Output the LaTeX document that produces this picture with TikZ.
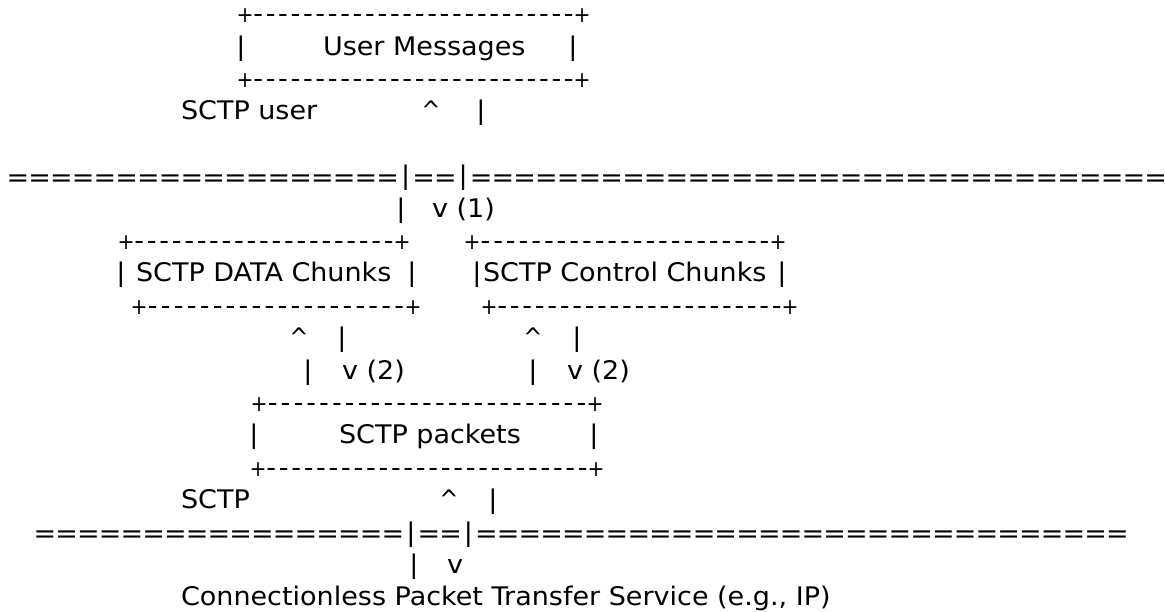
\documentclass[tikz,border=0pt]{standalone}
\usepackage{fontspec}
\setmainfont{DejaVu Sans}[FakeStretch=1.055]
\usepackage{graphicx}

% glyph helpers for the ASCII drawing
\newcommand\plusg{\scalebox{0.75}[0.86]{+}}
\newcommand\caretg{\scalebox{0.85}[1]{\textasciicircum}}
\newcommand\dashfill[1]{\hbox to #1pt{\xleaders\hbox to 12.4pt{\hss-\hss}\hfill}}
\newcommand\eqg{\hbox to 21.75pt{\hss\raisebox{-1.5pt}{=}\hss}}
\newcommand\eqrun[1]{\hbox to \dimexpr 21.75pt*#1\relax{\xleaders\eqg\hfill}}
\newcommand\barb{\hbox to 14.2pt{\hss\textbar\hss}}

\tikzset{
  ascii/.style={inner sep=0pt, outer sep=0pt, font=\fontsize{25.6}{30}\selectfont, anchor=base},
  asciiw/.style={ascii, anchor=base west},
}

% +-----+ edge of a box: name, left centre, right centre, row
\newcommand\boxedge[4]{%
  \node[ascii] (#1-a) at (#2,{621.6-32.4*#4}) {\plusg};
  \node[ascii] (#1-b) at (#3,{621.6-32.4*#4}) {\plusg};
  \pgfmathsetmacro\dw{#3-#2-14}
  \node[asciiw] (#1-d) at (#2+7,{621.6-32.4*#4}) {\dashfill{\dw}};
}

\begin{document}
\begin{tikzpicture}[x=1pt,y=1pt]
\useasboundingbox (0,0) rectangle (1165,612);
\fill[white] (0,0) rectangle (1165,612);

% User Messages box
\boxedge{umtop}{245}{582}{1}
\node[ascii]  (um-l) at (241,{621.6-32.4*2}) {\textbar};
\node[asciiw] (um)   at (323,{621.6-32.4*2}) {User Messages};
\node[ascii]  (um-r) at (573,{621.6-32.4*2}) {\textbar};
\boxedge{umbot}{245}{582}{3}

% SCTP user side
\node[asciiw] (user) at (181,{621.6-32.4*4}) {SCTP user};
\node[ascii]  (up1)  at (431,{621.6-32.4*4}) {\caretg};
\node[ascii]  (dn1)  at (481,{621.6-32.4*4}) {\textbar};

% upper boundary
\node[asciiw] (rule1) at (7,{621.6-32.4*6}) {\eqrun{18}\barb\eqrun{2}\barb\eqrun{32}};

\node[ascii]  (up1b) at (401,{621.6-32.4*7}) {\textbar};
\node[asciiw] (dn1b) at (432,{621.6-32.4*7}) {v (1)};

% chunk boxes
\boxedge{datatop}{126}{402}{8}
\boxedge{ctltop}{472}{778}{8}
\node[ascii]  (data-l) at (121,{621.6-32.4*9}) {\textbar};
\node[asciiw] (data)   at (136,{621.6-32.4*9}) {SCTP DATA Chunks};
\node[ascii]  (data-r) at (412,{621.6-32.4*9}) {\textbar};
\node[ascii]  (ctl-l)  at (477,{621.6-32.4*9}) {\textbar};
\node[asciiw] (ctl)    at (483,{621.6-32.4*9}) {SCTP Control Chunks};
\node[ascii]  (ctl-r)  at (782,{621.6-32.4*9}) {\textbar};
\boxedge{databot}{139}{413}{10}
\boxedge{ctlbot}{489}{790}{10}

% chunk <-> packet arrows
\node[ascii]  (up2a) at (299,{621.6-32.4*11}) {\caretg};
\node[ascii]  (dn2a) at (342,{621.6-32.4*11}) {\textbar};
\node[ascii]  (up2c) at (533,{621.6-32.4*11}) {\caretg};
\node[ascii]  (dn2c) at (577,{621.6-32.4*11}) {\textbar};
\node[ascii]  (up2b) at (308,{621.6-32.4*12}) {\textbar};
\node[asciiw] (dn2b) at (342,{621.6-32.4*12}) {v (2)};
\node[ascii]  (up2d) at (533,{621.6-32.4*12}) {\textbar};
\node[asciiw] (dn2d) at (567,{621.6-32.4*12}) {v (2)};

% SCTP packets box
\boxedge{pktop}{259}{595}{13}
\node[ascii]  (pk-l) at (254,{621.6-32.4*14}) {\textbar};
\node[asciiw] (pk)   at (339,{621.6-32.4*14}) {SCTP packets};
\node[ascii]  (pk-r) at (594,{621.6-32.4*14}) {\textbar};
\boxedge{pkbot}{258}{596}{15}

% SCTP side
\node[asciiw] (sctp) at (181,{621.6-32.4*16}) {SCTP};
\node[ascii]  (up3)  at (449,{621.6-32.4*16}) {\caretg};
\node[ascii]  (dn3)  at (493,{621.6-32.4*16}) {\textbar};

% lower boundary
\node[asciiw] (rule2) at (34,{621.6-32.4*17}) {\eqrun{17}\barb\eqrun{2}\barb\eqrun{30}};

\node[ascii]  (up3b) at (414,{621.6-32.4*18}) {\textbar};
\node[asciiw] (dn3b) at (447,{621.6-32.4*18}) {v};

\node[asciiw] (ip) at (181,{621.6-32.4*19}) {Connectionless Packet Transfer Service (e.g., IP)};
\end{tikzpicture}
\end{document}
